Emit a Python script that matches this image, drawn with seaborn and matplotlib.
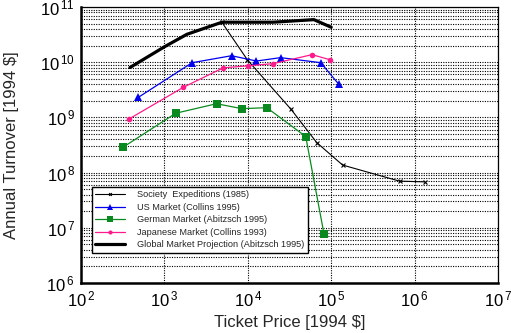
import numpy as np
import pandas as pd
import matplotlib
matplotlib.use("Agg")
import matplotlib.pyplot as plt
import seaborn as sns
from matplotlib.lines import Line2D
from matplotlib.ticker import FixedLocator, FuncFormatter, NullFormatter

# ---- data ----
society_x = [4840, 9900, 33000, 67000, 137000, 660000, 1320000]
society_y = [5.4e10, 1.1e10, 1.4e9, 3.5e8, 1.37e8, 7.0e7, 6.8e7]

us_x = [485, 2150, 6380, 12700, 24700, 75000, 123000]
us_y = [2.3e9, 9.8e9, 1.31e10, 1.05e10, 1.21e10, 9.8e9, 4.0e9]

german_x = [321, 1370, 4220, 8470, 16900, 49500, 82000]
german_y = [2.9e8, 1.19e9, 1.77e9, 1.44e9, 1.5e9, 4.5e8, 7.7e6]

japan_x = [378, 1680, 5060, 10000, 20000, 59000, 98000]
japan_y = [9.4e8, 3.5e9, 7.9e9, 8.6e9, 9.4e9, 1.37e10, 1.1e10]

global_x = [386, 1000, 1860, 4900, 20000, 62000, 100000]
global_y = [8.0e9, 1.9e10, 3.2e10, 5.3e10, 5.3e10, 5.9e10, 4.3e10]

labels = ["Society  Expeditions (1985)", "US Market (Collins 1995)",
          "German Market (Abitzsch 1995)", "Japanese Market (Collins 1993)",
          "Global Market Projection (Abitzsch 1995)"]

x_label = "Ticket Price [1994 $]"
y_label = "Annual Turnover [1994 $]"

sns.set_style("white")
plt.rcParams['font.family'] = ['Liberation Sans', 'DejaVu Sans']
plt.rcParams['mathtext.fontset'] = 'custom'
plt.rcParams['mathtext.rm'] = 'Liberation Sans'
plt.rcParams['mathtext.it'] = 'Liberation Sans'

fig = plt.figure(figsize=(5.11, 3.33), dpi=100)
ax = fig.add_axes([81/511, 50/333, 417/511, 276/333])

styles = [
    dict(color="black", lw=0.8, marker="x", ms=3, mew=0.8),
    dict(color="#0000ee", lw=0.9, marker="^", ms=6, mew=0),
    dict(color="#0a8a1e", lw=0.9, marker="s", ms=6, mew=0),
    dict(color="#ff1a8c", lw=0.9, marker="o", ms=4, mew=0),
    dict(color="black", lw=2.3, marker=None, ms=0, mew=0),
]
series = [(society_x, society_y), (us_x, us_y), (german_x, german_y),
          (japan_x, japan_y), (global_x, global_y)]

for (xs, ys), st, lab in zip(series, styles, labels):
    df = pd.DataFrame({"x": xs, "y": ys})
    kw = dict(color=st["color"], linewidth=st["lw"])
    if st["marker"]:
        kw.update(marker=st["marker"], markersize=st["ms"], markeredgewidth=st["mew"],
                  markeredgecolor=st["color"], markerfacecolor=st["color"])
    sns.lineplot(data=df, x="x", y="y", ax=ax, sort=False, estimator=None, **kw)

ax.set_xscale("log")
ax.set_yscale("log")
ax.set_xlim(1e2, 1e7)
ax.set_ylim(1e6, 1e11)

fmt = FuncFormatter(lambda v, p: r"$\mathregular{10^{\,%d}}$" % int(round(np.log10(v))))
ax.xaxis.set_major_locator(FixedLocator([10.0**k for k in range(2, 8)]))
ax.yaxis.set_major_locator(FixedLocator([10.0**k for k in range(6, 12)]))
ax.xaxis.set_major_formatter(fmt)
ax.yaxis.set_major_formatter(fmt)
minors_x = [m * 10.0**k for k in range(2, 7) for m in range(2, 10)]
minors_y = [m * 10.0**k for k in range(6, 11) for m in range(2, 10)]
ax.xaxis.set_minor_locator(FixedLocator(minors_x))
ax.yaxis.set_minor_locator(FixedLocator(minors_y))
ax.xaxis.set_minor_formatter(NullFormatter())
ax.yaxis.set_minor_formatter(NullFormatter())

ax.tick_params(axis="both", which="major", direction="inout", length=5, width=1,
               labelsize=12, colors="black", pad=2)
ax.tick_params(axis="both", which="minor", direction="in", length=2.5, width=0.8)
ax.tick_params(axis="y", which="minor", length=0)

ax.grid(True, which="major", axis="x", color="black", linestyle=(0, (1, 1.2)), linewidth=0.8)
ax.grid(True, which="both", axis="y", color="black", linestyle=(0, (1, 1.2)), linewidth=0.8)
ax.set_axisbelow(True)

for s in ["top", "right"]:
    ax.spines[s].set_linewidth(0.9)
    ax.spines[s].set_color("black")
for s in ["left", "bottom"]:
    ax.spines[s].set_linewidth(1.8)
    ax.spines[s].set_color("black")

ax.set_xlabel(x_label, fontsize=12, labelpad=4)
ax.set_ylabel(y_label, fontsize=12, labelpad=15)

handles = []
for st in styles:
    handles.append(Line2D([], [], color=st["color"], lw=st["lw"] if st["marker"] else 2.3,
                          marker=st["marker"], markersize=max(st["ms"] - 1, 0),
                          markeredgewidth=st["mew"], markerfacecolor=st["color"],
                          markeredgecolor=st["color"]))
leg = ax.legend(handles, labels, loc="lower left", bbox_to_anchor=(0.026, 0.11),
                fontsize=6.6, frameon=True, fancybox=False, framealpha=1,
                edgecolor="black", handlelength=3.3, handletextpad=1.3,
                labelspacing=0.38, borderpad=0.35, borderaxespad=0)
leg.get_frame().set_linewidth(1.0)

fig.savefig("out.png", dpi=100)
